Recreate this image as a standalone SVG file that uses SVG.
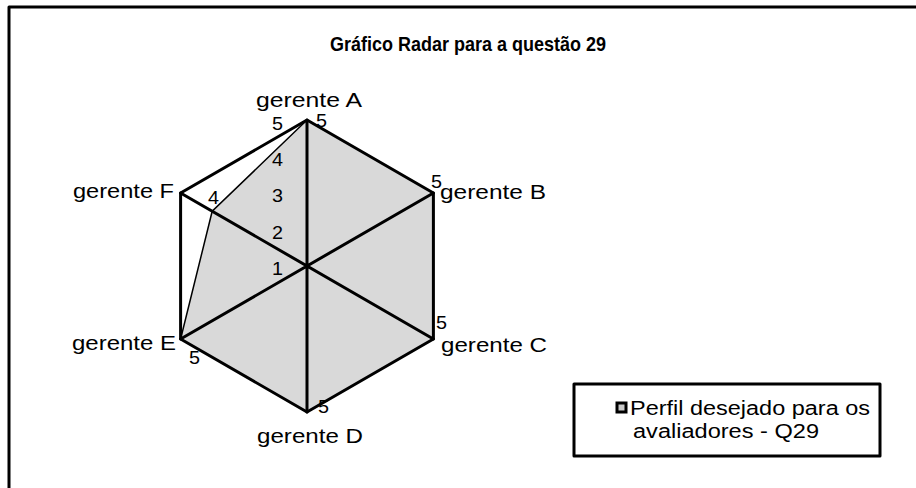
<svg xmlns="http://www.w3.org/2000/svg" width="916" height="488" viewBox="0 0 916 488">
<style>
text{font-family:"Liberation Sans",Arial,sans-serif;fill:#000}
.lbl{font-size:20px}
.num{font-size:18px}
.title{font-size:21px;font-weight:bold}
.thick{stroke:#000;stroke-width:3;fill:none;stroke-linecap:round;stroke-linejoin:round}
.thin{stroke:#000;stroke-width:1.5;fill:none}
</style>
<rect x="0" y="0" width="916" height="488" fill="#fff"/>
<g id="frame"><path d="M9 492 V7 H920" class="thick" stroke-linecap="butt"/></g>
<text class="title" x="330" y="51" textLength="276" lengthAdjust="spacingAndGlyphs">Gráfico Radar  para a questão 29</text>
<g id="data-area">
<polygon points="307,120 433.4,193 433.4,339 307,412 180.6,339 212.2,211.25" fill="#d9d9d9" stroke="none"/>
</g>
<g id="connectors">
<polygon points="307,120 433.4,193 433.4,339 307,412 180.6,339 180.6,193" class="thick"/>
<path d="M307 120 L307 412 M433.4 193 L180.6 339 M433.4 339 L180.6 193" class="thick"/>
<path d="M307 120 L212.2 211.25 L180.6 339" class="thin"/>
</g>
<g id="axis-scale" class="num">
<text x="272" y="275" textLength="11" lengthAdjust="spacingAndGlyphs">1</text>
<text x="272" y="239" textLength="11" lengthAdjust="spacingAndGlyphs">2</text>
<text x="272" y="202" textLength="11" lengthAdjust="spacingAndGlyphs">3</text>
<text x="272" y="166" textLength="11" lengthAdjust="spacingAndGlyphs">4</text>
<text x="272" y="130" textLength="11" lengthAdjust="spacingAndGlyphs">5</text>
</g>
<g id="gerente-A"><text class="lbl" x="256" y="107" textLength="106" lengthAdjust="spacingAndGlyphs">gerente A</text><text class="num" x="316" y="127" textLength="11" lengthAdjust="spacingAndGlyphs">5</text></g>
<g id="gerente-B"><text class="lbl" x="440" y="199" textLength="106" lengthAdjust="spacingAndGlyphs">gerente B</text><text class="num" x="431" y="188" textLength="11" lengthAdjust="spacingAndGlyphs">5</text></g>
<g id="gerente-C"><text class="lbl" x="441" y="352" textLength="106" lengthAdjust="spacingAndGlyphs">gerente C</text><text class="num" x="436" y="329" textLength="11" lengthAdjust="spacingAndGlyphs">5</text></g>
<g id="gerente-D"><text class="lbl" x="257" y="443" textLength="106" lengthAdjust="spacingAndGlyphs">gerente D</text><text class="num" x="318" y="413" textLength="11" lengthAdjust="spacingAndGlyphs">5</text></g>
<g id="gerente-E"><text class="lbl" x="72" y="350" textLength="104" lengthAdjust="spacingAndGlyphs">gerente E</text><text class="num" x="189" y="364" textLength="11" lengthAdjust="spacingAndGlyphs">5</text></g>
<g id="gerente-F"><text class="lbl" x="73" y="198" textLength="101" lengthAdjust="spacingAndGlyphs">gerente F</text><text class="num" x="208" y="204" textLength="11" lengthAdjust="spacingAndGlyphs">4</text></g>
<g id="legend">
<rect x="574" y="384" width="306" height="72" fill="#fff" class="thick" stroke-linecap="butt" stroke-linejoin="miter"/>
<rect x="617" y="403" width="9" height="9" fill="#c8c8c8" stroke="#000" stroke-width="3"/>
<text class="lbl" x="630" y="415" textLength="240" lengthAdjust="spacingAndGlyphs">Perfil desejado para os</text>
<text class="lbl" x="633" y="438" textLength="186" lengthAdjust="spacingAndGlyphs">avaliadores - Q29</text>
</g>
</svg>
